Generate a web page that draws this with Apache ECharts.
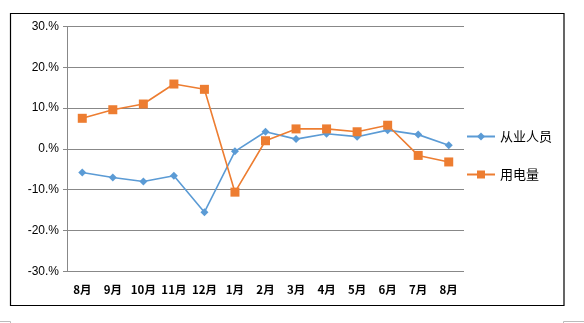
<!DOCTYPE html>
<html>
<head>
<meta charset="utf-8">
<script src="https://cdn.jsdelivr.net/npm/echarts@6/dist/echarts.min.js"></script>
<style>html,body{margin:0;padding:0;background:#fff;}#c{width:584px;height:323px;}</style>
</head>
<body>
<div id="c"></div>
<script>
var categories = ['8月','9月','10月','11月','12月','1月','2月','3月','4月','5月','6月','7月','8月'];
var employees = [-5.8, -7.0, -8.0, -6.6, -15.5, -0.6, 4.2, 2.4, 3.7, 3.0, 4.6, 3.5, 0.9];
var electricity = [7.5, 9.6, 11.0, 15.9, 14.6, -10.6, 2.0, 4.9, 4.9, 4.2, 5.8, -1.6, -3.2];
var seriesNames = ['从业人员', '用电量'];

var chart = echarts.init(document.getElementById('c'), null, {renderer: 'canvas'});
chart.setOption({
  animation: false,
  backgroundColor: '#fff',
  textStyle: {fontFamily: 'Noto Sans CJK SC, sans-serif'},
  grid: {left: 67, right: 120, top: 26.5, bottom: 51.7},
  graphic: [
    {type: 'rect', shape: {x: 10.5, y: 13.5, width: 553.5, height: 292}, style: {fill: 'none', stroke: '#000', lineWidth: 1.2}, silent: true},
    {type: 'polyline', shape: {points: [[0, 321.5], [10.5, 321.5], [10.5, 323]]}, style: {fill: 'none', stroke: '#bbb', lineWidth: 1}},
    {type: 'polyline', shape: {points: [[584, 321.5], [563.5, 321.5], [563.5, 323]]}, style: {fill: 'none', stroke: '#bbb', lineWidth: 1}}
  ],
  legend: {
    orient: 'vertical',
    left: 466,
    top: 130,
    padding: 0,
    itemGap: 25,
    itemWidth: 28,
    itemHeight: 10,
    textStyle: {fontSize: 13, color: '#000', fontFamily: 'Noto Sans CJK SC'},
    data: seriesNames
  },
  xAxis: {
    type: 'category',
    data: categories,
    boundaryGap: true,
    position: 'bottom',
    axisLine: {show: false},
    axisTick: {show: false},
    axisLabel: {fontSize: 11.5, fontWeight: 'bold', color: '#000', margin: 13, interval: 0, fontFamily: 'Noto Sans CJK SC'}
  },
  yAxis: {
    type: 'value',
    min: -30, max: 30, interval: 10,
    axisLine: {show: true, lineStyle: {color: '#888', width: 1}},
    axisTick: {show: true, length: 4, lineStyle: {color: '#888'}},
    splitLine: {show: true, lineStyle: {color: '#888', width: 1}},
    axisLabel: {fontSize: 12, color: '#000', margin: 8, formatter: function (v) { return v + '.%'; }, fontFamily: 'Liberation Sans, sans-serif'}
  },
  series: [
    {
      name: seriesNames[0], type: 'line', data: employees,
      symbol: 'diamond', symbolSize: 8,
      lineStyle: {color: '#5B9BD5', width: 1.6},
      itemStyle: {color: '#5B9BD5'}
    },
    {
      name: seriesNames[1], type: 'line', data: electricity,
      symbol: 'rect', symbolSize: 9,
      lineStyle: {color: '#ED7D31', width: 1.6},
      itemStyle: {color: '#ED7D31'}
    }
  ]
});
</script>
</body>
</html>
